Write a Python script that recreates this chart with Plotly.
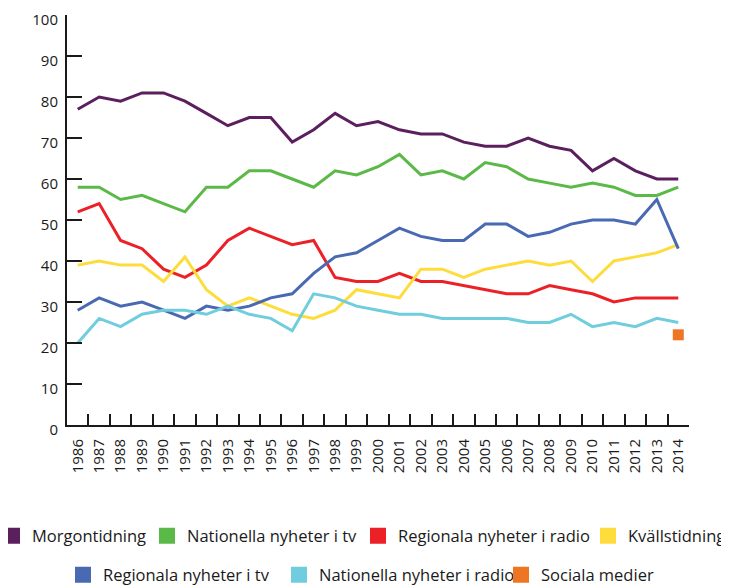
import plotly.graph_objects as go

# years on the x axis
years = [str(y) for y in range(1986, 2015)]

morgontidning = [77, 80, 79, 81, 81, 79, 76, 73, 75, 75, 69, 72, 76, 73, 74, 72, 71, 71, 69, 68, 68, 70, 68, 67, 62, 65, 62, 60, 60]
nat_tv = [58, 58, 55, 56, 54, 52, 58, 58, 62, 62, 60, 58, 62, 61, 63, 66, 61, 62, 60, 64, 63, 60, 59, 58, 59, 58, 56, 56, 58]
reg_radio = [52, 54, 45, 43, 38, 36, 39, 45, 48, 46, 44, 45, 36, 35, 35, 37, 35, 35, 34, 33, 32, 32, 34, 33, 32, 30, 31, 31, 31]
kvallstidning = [39, 40, 39, 39, 35, 41, 33, 29, 31, 29, 27, 26, 28, 33, 32, 31, 38, 38, 36, 38, 39, 40, 39, 40, 35, 40, 41, 42, 44]
reg_tv = [28, 31, 29, 30, 28, 26, 29, 28, 29, 31, 32, 37, 41, 42, 45, 48, 46, 45, 45, 49, 49, 46, 47, 49, 50, 50, 49, 55, 43]
nat_radio = [20, 26, 24, 27, 28, 28, 27, 29, 27, 26, 23, 32, 31, 29, 28, 27, 27, 26, 26, 26, 26, 25, 25, 27, 24, 25, 24, 26, 25]
sociala_year = ["2014"]
sociala = [22]

# name, values, colour, which legend row, legend entry width
series = [
    ("Morgontidning", morgontidning, "#5c1f5e", "legend", 110),
    ("Nationella nyheter i tv", nat_tv, "#5bba47", "legend", 166),
    ("Regionala nyheter i radio", reg_radio, "#ec2027", "legend", 0),
    ("Kvällstidning", kvallstidning, "#fedc3c", "legend3", 0),
    ("Regionala nyheter i tv", reg_tv, "#496ab3", "legend2", 171),
    ("Nationella nyheter i radio", nat_radio, "#70cddd", "legend2", 177),
]

fig = go.Figure()

for name, vals, color, leg, lw in series:
    fig.add_trace(go.Scatter(x=years, y=vals, mode="lines", name=name,
                             line=dict(color=color, width=3), showlegend=False))
    # legend entry as a square
    fig.add_trace(go.Scatter(x=[None], y=[None], mode="markers", name=name,
                             marker=dict(symbol="square", size=16, color=color),
                             legend=leg, legendwidth=lw if lw else None))

fig.add_trace(go.Scatter(x=sociala_year, y=sociala, mode="markers", name="Sociala medier",
                         marker=dict(symbol="square", size=11, color="#ee7623"),
                         showlegend=False))
fig.add_trace(go.Scatter(x=[None], y=[None], mode="markers", name="Sociala medier",
                         marker=dict(symbol="square", size=16, color="#ee7623"),
                         legend="legend2"))

font = dict(family="Open Sans", size=15, color="#1a1a1a")
legfont = dict(family="Open Sans", size=16.5, color="#1a1a1a")

# the page body has an 8px margin, so the figure is 8px smaller than the window
# plot area is 622 px wide, 410 px high
fig.update_layout(
    width=721, height=577,
    margin=dict(l=59, r=40, t=7, b=160, autoexpand=False),
    plot_bgcolor="white", paper_bgcolor="white",
    font=font,
    legend=dict(orientation="h", x=-75 / 622, xanchor="left", y=-111 / 410, yanchor="middle",
                font=legfont, itemclick=False, bgcolor="rgba(0,0,0,0)"),
    legend3=dict(orientation="h", x=521 / 622, xanchor="left", y=-111 / 410, yanchor="middle",
                 font=legfont, itemclick=False, bgcolor="rgba(0,0,0,0)"),
    legend2=dict(orientation="h", x=-4 / 622, xanchor="left", y=-150 / 410, yanchor="middle",
                 font=legfont, itemclick=False, bgcolor="rgba(0,0,0,0)"),
)

fig.update_xaxes(type="category", range=[-0.5, 28.5], tickson="boundaries",
                 ticks="inside", ticklen=11, tickwidth=2, tickcolor="#1a1a1a",
                 showline=True, linecolor="#1a1a1a", linewidth=2,
                 showgrid=False, tickangle=-90, tickfont=font, ticklabelstandoff=6,
                 ticklabeloverflow="allow")
# labels sit a few px below their ticks in the original
fig.update_yaxes(range=[0, 100], dtick=10, ticks="inside", ticklen=15, tickwidth=2,
                 tickcolor="#1a1a1a", showline=True, linecolor="#1a1a1a", linewidth=2,
                 showgrid=False, zeroline=False, tickfont=font, ticklabelstandoff=4,
                 ticklabelshift=5, ticklabeloverflow="allow")

fig.write_html("out.html")
